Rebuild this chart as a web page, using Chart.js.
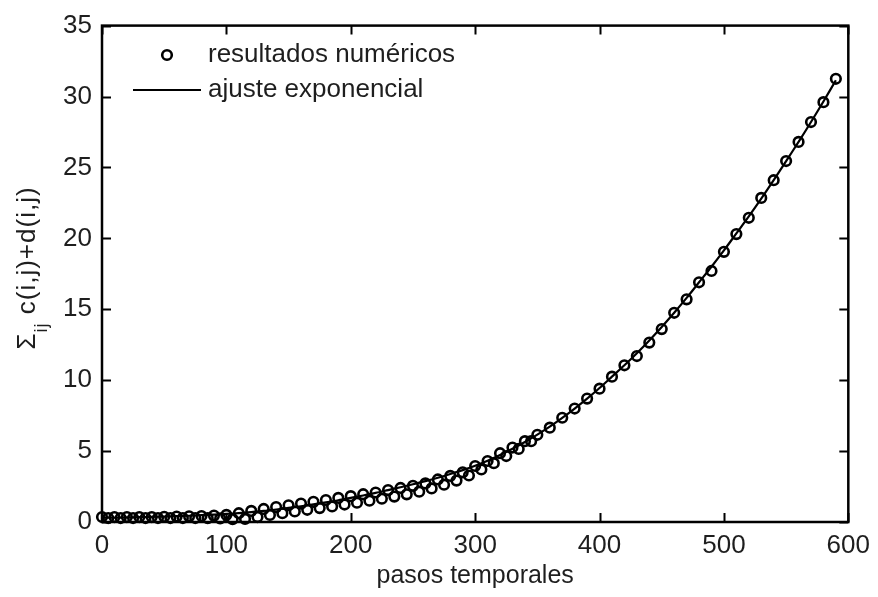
<!DOCTYPE html>
<html>
<head>
<meta charset="utf-8">
<script src="https://cdn.jsdelivr.net/npm/chart.js@4.4.0/dist/chart.umd.min.js"></script>
<style>
  html, body { margin: 0; padding: 0; background: #fff; }
  canvas { display: block; }
</style>
</head>
<body>
<canvas id="grafico" width="878" height="597"></canvas>
<script>
// Datos
const pasos = [0, 10, 20, 30, 40, 50, 60, 70, 80, 90,
  100, 110, 120, 130, 140, 150, 160, 170, 180, 190,
  200, 210, 220, 230, 240, 250, 260, 270, 280, 290,
  300, 310, 320, 330, 340, 350, 360, 370, 380, 390,
  400, 410, 420, 430, 440, 450, 460, 470, 480, 490,
  500, 510, 520, 530, 540, 550, 560, 570, 580, 590];

const resultados = [0.35, 0.35, 0.35, 0.35, 0.35, 0.37, 0.38, 0.40, 0.42, 0.45,
  0.50, 0.62, 0.78, 0.92, 1.05, 1.18, 1.30, 1.42, 1.55, 1.70,
  1.82, 1.96, 2.08, 2.25, 2.40, 2.55, 2.72, 3.00, 3.25, 3.50,
  3.95, 4.30, 4.85, 5.25, 5.70, 6.15, 6.65, 7.35, 8.00, 8.70,
  9.40, 10.25, 11.05, 11.70, 12.65, 13.60, 14.75, 15.70, 16.90, 17.70,
  19.05, 20.30, 21.45, 22.85, 24.10, 25.45, 26.80, 28.20, 29.60, 31.25];

// segunda fila de círculos, intercalada, visible en la parte baja
const pasosB = [5, 15, 25, 35, 45, 55, 65, 75, 85, 95,
  105, 115, 125, 135, 145, 155, 165, 175, 185, 195,
  205, 215, 225, 235, 245, 255, 265, 275, 285, 295,
  305, 315, 325, 335, 345];
const resultadosB = [0.28, 0.28, 0.28, 0.28, 0.28, 0.28, 0.28, 0.28, 0.27, 0.25,
  0.20, 0.22, 0.35, 0.50, 0.62, 0.74, 0.86, 0.98, 1.10, 1.23,
  1.36, 1.50, 1.64, 1.79, 1.95, 2.14, 2.37, 2.63, 2.92, 3.28,
  3.70, 4.15, 4.65, 5.15, 5.70];

// curva del ajuste exponencial (leída sobre la línea continua)
const ajuste = [0.30, 0.31, 0.32, 0.34, 0.36, 0.38, 0.41, 0.44, 0.48, 0.52,
  0.57, 0.63, 0.70, 0.78, 0.88, 0.99, 1.11, 1.24, 1.38, 1.53,
  1.70, 1.87, 2.05, 2.25, 2.45, 2.66, 2.88, 3.12, 3.38, 3.66,
  3.97, 4.32, 4.72, 5.16, 5.64, 6.16, 6.72, 7.34, 8.00, 8.70,
  9.45, 10.25, 11.05, 11.90, 12.80, 13.75, 14.75, 15.80, 16.90, 18.00,
  19.15, 20.35, 21.55, 22.80, 24.10, 25.45, 26.80, 28.20, 29.65, 31.15];

const ticksX = [0, 100, 200, 300, 400, 500, 600];
const ticksY = [0, 5, 10, 15, 20, 25, 30, 35];

const fuente = "'Liberation Sans', Arial, sans-serif";
const colorTexto = "#1e1e1e";

// Marco, marcas hacia dentro, leyenda y títulos de los ejes
const marcoMatlab = {
  id: "marcoMatlab",
  afterDatasetsDraw(chart) {
    const { ctx, chartArea: a, scales } = chart;
    const largo = 9;
    ctx.save();
    ctx.strokeStyle = "#000";
    ctx.lineWidth = 2;
    ticksX.forEach((v) => {
      const px = Math.round(scales.x.getPixelForValue(v)) + 0.5;
      ctx.beginPath();
      ctx.moveTo(px, a.bottom); ctx.lineTo(px, a.bottom - largo);
      ctx.moveTo(px, a.top); ctx.lineTo(px, a.top + largo);
      ctx.stroke();
    });
    ticksY.forEach((v) => {
      const py = Math.round(scales.y.getPixelForValue(v)) + 0.5;
      ctx.beginPath();
      ctx.moveTo(a.left, py); ctx.lineTo(a.left + largo, py);
      ctx.moveTo(a.right, py); ctx.lineTo(a.right - largo, py);
      ctx.stroke();
    });
    ctx.lineWidth = 2.5;
    ctx.strokeRect(a.left, a.top, a.right - a.left, a.bottom - a.top);

    // leyenda
    ctx.lineWidth = 2.6;
    ctx.beginPath();
    ctx.arc(167, 55, 4.8, 0, Math.PI * 2);
    ctx.stroke();
    ctx.lineWidth = 2.2;
    ctx.beginPath();
    ctx.moveTo(133, 90); ctx.lineTo(201, 90);
    ctx.stroke();
    ctx.fillStyle = colorTexto;
    ctx.font = "26px " + fuente;
    ctx.textBaseline = "middle";
    ctx.textAlign = "left";
    ctx.fillText("resultados numéricos", 208, 55);
    ctx.fillText("ajuste exponencial", 208, 90);

    // título del eje x
    ctx.textAlign = "center";
    ctx.font = "25px " + fuente;
    ctx.fillText("pasos temporales", (a.left + a.right) / 2, 576);

    // título del eje y con subíndice
    ctx.textAlign = "left";
    ctx.translate(26, 268);
    ctx.rotate(-Math.PI / 2);
    ctx.letterSpacing = "1px";
    const fGrande = "26px " + fuente;
    const fSub = "18px " + fuente;
    ctx.font = fGrande;
    const wSigma = ctx.measureText("Σ").width;
    const resto = " c(i,j)+d(i,j)";
    const wResto = ctx.measureText(resto).width;
    ctx.font = fSub;
    const wSub = ctx.measureText("ij").width;
    const x0 = -(wSigma + wSub + wResto) / 2;
    ctx.textBaseline = "alphabetic";
    ctx.font = fGrande;
    ctx.fillText("Σ", x0, 9);
    ctx.font = fSub;
    ctx.fillText("ij", x0 + wSigma, 21);
    ctx.font = fGrande;
    ctx.fillText(resto, x0 + wSigma + wSub, 9);
    ctx.restore();
  },
};

const ctx = document.getElementById("grafico").getContext("2d");

const estiloCirculo = {
  showLine: false,
  pointStyle: "circle",
  pointRadius: 4.8,
  pointBorderWidth: 2.6,
  pointBorderColor: "#000",
  pointBackgroundColor: "rgba(0,0,0,0)",
  clip: false,
};

new Chart(ctx, {
  type: "line",
  plugins: [marcoMatlab],
  data: {
    datasets: [
      {
        label: "resultados numéricos",
        data: pasos.map((p, i) => ({ x: p, y: resultados[i] })),
        ...estiloCirculo,
      },
      {
        label: "resultados numéricos (b)",
        data: pasosB.map((p, i) => ({ x: p, y: resultadosB[i] })),
        ...estiloCirculo,
      },
      {
        label: "ajuste exponencial",
        data: pasos.map((p, i) => ({ x: p, y: ajuste[i] })),
        borderColor: "#000",
        borderWidth: 2.2,
        pointRadius: 0,
        tension: 0.3,
        fill: false,
      },
    ],
  },
  options: {
    responsive: false,
    animation: false,
    events: [],
    layout: { padding: { left: 0, right: 26, top: 21, bottom: 0 } },
    plugins: {
      legend: { display: false },
      tooltip: { enabled: false },
    },
    scales: {
      x: {
        type: "linear",
        min: 0,
        max: 600,
        afterFit: (s) => { s.height = 75; },
        afterBuildTicks: (s) => { s.ticks = ticksX.map((v) => ({ value: v })); },
        grid: { display: false, drawTicks: false },
        border: { display: false },
        ticks: { color: colorTexto, padding: 8, maxRotation: 0, font: { family: fuente, size: 26 } },
      },
      y: {
        type: "linear",
        min: 0,
        max: 35,
        afterFit: (s) => { s.width = 102; },
        afterBuildTicks: (s) => { s.ticks = ticksY.map((v) => ({ value: v })); },
        grid: { display: false, drawTicks: false },
        border: { display: false },
        ticks: { color: colorTexto, padding: 10, font: { family: fuente, size: 26 } },
      },
    },
  },
});
</script>
</body>
</html>
